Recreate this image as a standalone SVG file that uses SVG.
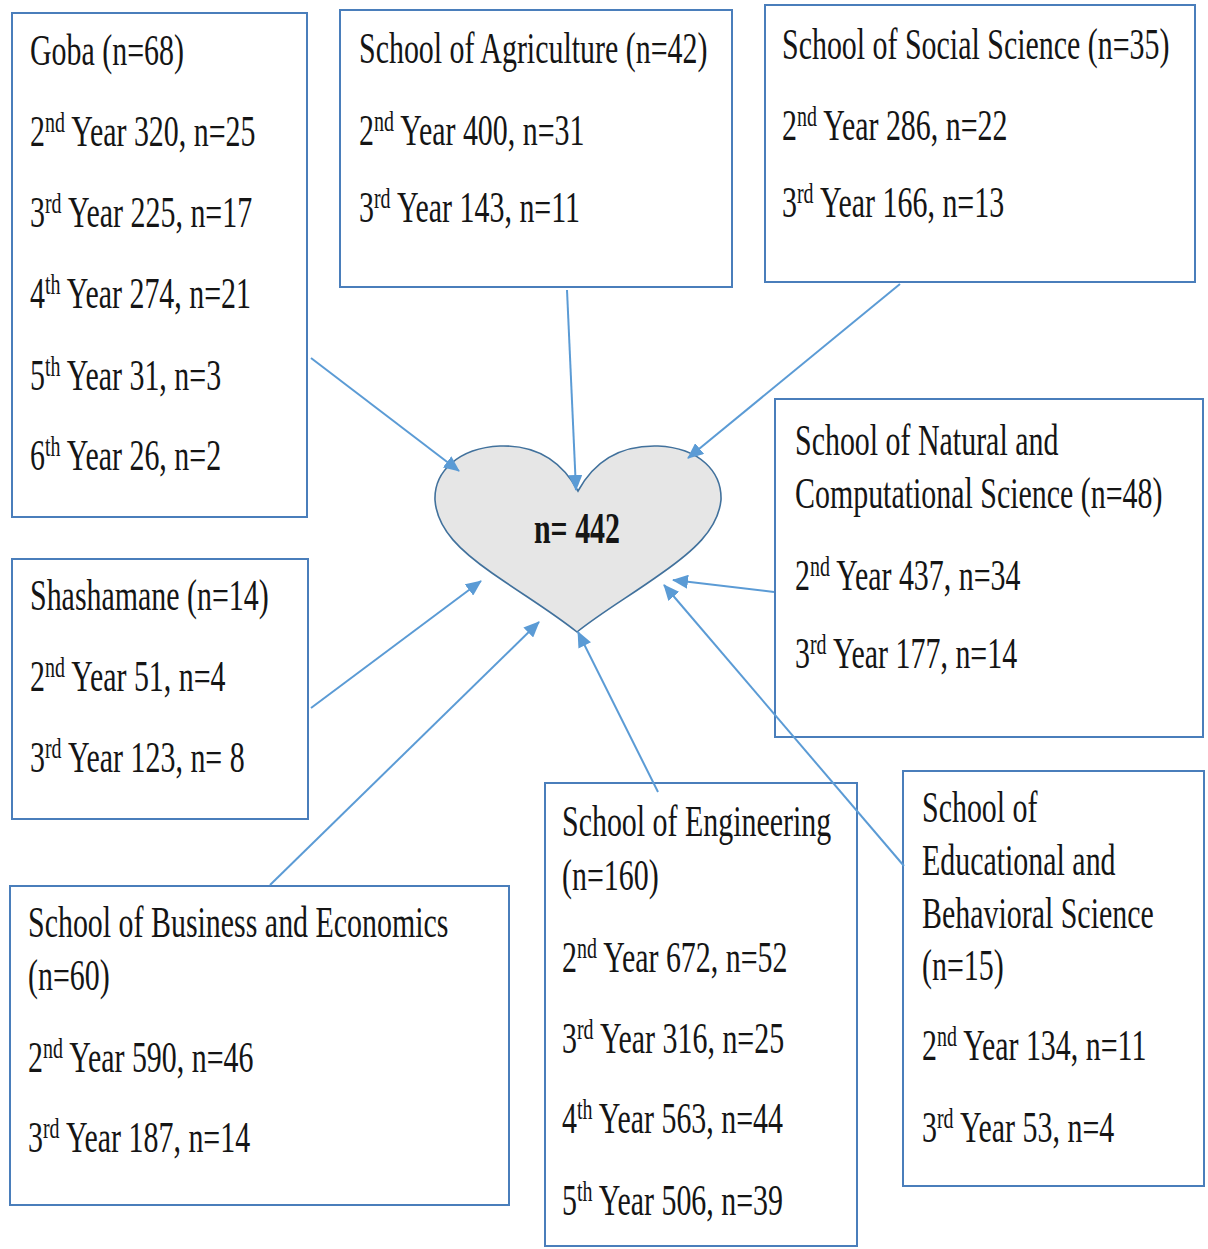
<svg xmlns="http://www.w3.org/2000/svg" width="1208" height="1249" viewBox="0 0 1208 1249">
<style>
.box{fill:#ffffff;stroke:#4a7ebb;stroke-width:2}
.t{font-family:"Liberation Serif","Times New Roman","DejaVu Serif",serif;font-size:45px;fill:#151515}
.s{font-size:30px}
.b{font-weight:bold}
.c{stroke:#5b9bd5;stroke-width:2;fill:none;marker-end:url(#ah)}
.heart{fill:#e6e6e6;stroke:#41719c;stroke-width:1.6}
</style>
<defs>
<marker id="ah" markerUnits="userSpaceOnUse" markerWidth="16" markerHeight="14" refX="15" refY="7" orient="auto">
<path d="M0,0 L16,7 L0,14 Z" fill="#5b9bd5"/>
</marker>
</defs>
<rect width="1208" height="1249" fill="#ffffff"/>

<g id="goba">
<rect class="box" x="12" y="13" width="295" height="504"/>
<text class="t" transform="translate(30,65) scale(0.665,1)">Goba (n=68)</text>
<text class="t" transform="translate(30,146) scale(0.665,1)">2<tspan class="s" dy="-14">nd</tspan><tspan dy="14"> Year 320, n=25</tspan></text>
<text class="t" transform="translate(30,227) scale(0.665,1)">3<tspan class="s" dy="-14">rd</tspan><tspan dy="14"> Year 225, n=17</tspan></text>
<text class="t" transform="translate(30,308) scale(0.665,1)">4<tspan class="s" dy="-14">th</tspan><tspan dy="14"> Year 274, n=21</tspan></text>
<text class="t" transform="translate(30,390) scale(0.665,1)">5<tspan class="s" dy="-14">th</tspan><tspan dy="14"> Year 31, n=3</tspan></text>
<text class="t" transform="translate(30,470) scale(0.665,1)">6<tspan class="s" dy="-14">th</tspan><tspan dy="14"> Year 26, n=2</tspan></text>
</g>

<g id="agriculture">
<rect class="box" x="340" y="10" width="392" height="277"/>
<text class="t" transform="translate(359,63) scale(0.665,1)">School of Agriculture (n=42)</text>
<text class="t" transform="translate(359,145) scale(0.665,1)">2<tspan class="s" dy="-14">nd</tspan><tspan dy="14"> Year 400, n=31</tspan></text>
<text class="t" transform="translate(359,222) scale(0.665,1)">3<tspan class="s" dy="-14">rd</tspan><tspan dy="14"> Year 143, n=11</tspan></text>
</g>

<g id="social">
<rect class="box" x="765" y="5" width="430" height="277"/>
<text class="t" transform="translate(782,59) scale(0.665,1)">School of Social Science (n=35)</text>
<text class="t" transform="translate(782,140) scale(0.665,1)">2<tspan class="s" dy="-14">nd</tspan><tspan dy="14"> Year 286, n=22</tspan></text>
<text class="t" transform="translate(782,217) scale(0.665,1)">3<tspan class="s" dy="-14">rd</tspan><tspan dy="14"> Year 166, n=13</tspan></text>
</g>

<g id="natural">
<rect class="box" x="775" y="399" width="428" height="338"/>
<text class="t" transform="translate(795,455) scale(0.665,1)">School of Natural and</text>
<text class="t" transform="translate(795,508) scale(0.665,1)">Computational Science (n=48)</text>
<text class="t" transform="translate(795,590) scale(0.665,1)">2<tspan class="s" dy="-14">nd</tspan><tspan dy="14"> Year 437, n=34</tspan></text>
<text class="t" transform="translate(795,668) scale(0.665,1)">3<tspan class="s" dy="-14">rd</tspan><tspan dy="14"> Year 177, n=14</tspan></text>
</g>

<g id="shashamane">
<rect class="box" x="12" y="559" width="296" height="260"/>
<text class="t" transform="translate(30,610) scale(0.665,1)">Shashamane (n=14)</text>
<text class="t" transform="translate(30,691) scale(0.665,1)">2<tspan class="s" dy="-14">nd</tspan><tspan dy="14"> Year 51, n=4</tspan></text>
<text class="t" transform="translate(30,772) scale(0.665,1)">3<tspan class="s" dy="-14">rd</tspan><tspan dy="14"> Year 123, n= 8</tspan></text>
</g>

<g id="business">
<rect class="box" x="10" y="886" width="499" height="319"/>
<text class="t" transform="translate(28,937) scale(0.665,1)">School of Business and Economics</text>
<text class="t" transform="translate(28,990) scale(0.665,1)">(n=60)</text>
<text class="t" transform="translate(28,1072) scale(0.665,1)">2<tspan class="s" dy="-14">nd</tspan><tspan dy="14"> Year 590, n=46</tspan></text>
<text class="t" transform="translate(28,1152) scale(0.665,1)">3<tspan class="s" dy="-14">rd</tspan><tspan dy="14"> Year 187, n=14</tspan></text>
</g>

<g id="engineering">
<rect class="box" x="545" y="783" width="312" height="463"/>
<text class="t" transform="translate(562,836) scale(0.665,1)">School of Engineering</text>
<text class="t" transform="translate(562,890) scale(0.665,1)">(n=160)</text>
<text class="t" transform="translate(562,972) scale(0.665,1)">2<tspan class="s" dy="-14">nd</tspan><tspan dy="14"> Year 672, n=52</tspan></text>
<text class="t" transform="translate(562,1053) scale(0.665,1)">3<tspan class="s" dy="-14">rd</tspan><tspan dy="14"> Year 316, n=25</tspan></text>
<text class="t" transform="translate(562,1133) scale(0.665,1)">4<tspan class="s" dy="-14">th</tspan><tspan dy="14"> Year 563, n=44</tspan></text>
<text class="t" transform="translate(562,1215) scale(0.665,1)">5<tspan class="s" dy="-14">th</tspan><tspan dy="14"> Year 506, n=39</tspan></text>
</g>

<g id="educational">
<rect class="box" x="903" y="771" width="301" height="415"/>
<text class="t" transform="translate(922,822) scale(0.665,1)">School of</text>
<text class="t" transform="translate(922,875) scale(0.665,1)">Educational and</text>
<text class="t" transform="translate(922,928) scale(0.665,1)">Behavioral Science</text>
<text class="t" transform="translate(922,980) scale(0.665,1)">(n=15)</text>
<text class="t" transform="translate(922,1060) scale(0.665,1)">2<tspan class="s" dy="-14">nd</tspan><tspan dy="14"> Year 134, n=11</tspan></text>
<text class="t" transform="translate(922,1142) scale(0.665,1)">3<tspan class="s" dy="-14">rd</tspan><tspan dy="14"> Year 53, n=4</tspan></text>
</g>

<g id="center">
<path class="heart" d="M578,491 C560,458 532,445 500,446 C458,448 434,472 435,500 C437,530 462,552 492,573 C525,596 552,612 577,632 C602,612 630,596 662,573 C692,552 718,530 721,500 C722,472 700,448 658,446 C625,445 596,458 578,491 Z"/>
<text class="t b" transform="translate(577,543) scale(0.665,1)" text-anchor="middle">n= 442</text>
</g>

<g id="connectors">
<line class="c" x1="311" y1="358" x2="459" y2="471"/>
<line class="c" x1="567" y1="290" x2="576" y2="490"/>
<line class="c" x1="900" y1="284" x2="688" y2="458"/>
<line class="c" x1="774" y1="592" x2="673" y2="580"/>
<line class="c" x1="311" y1="708" x2="481" y2="581"/>
<line class="c" x1="270" y1="885" x2="539" y2="622"/>
<line class="c" x1="658" y1="792" x2="578" y2="632"/>
<line class="c" x1="904" y1="866" x2="664" y2="585"/>
</g>
</svg>
